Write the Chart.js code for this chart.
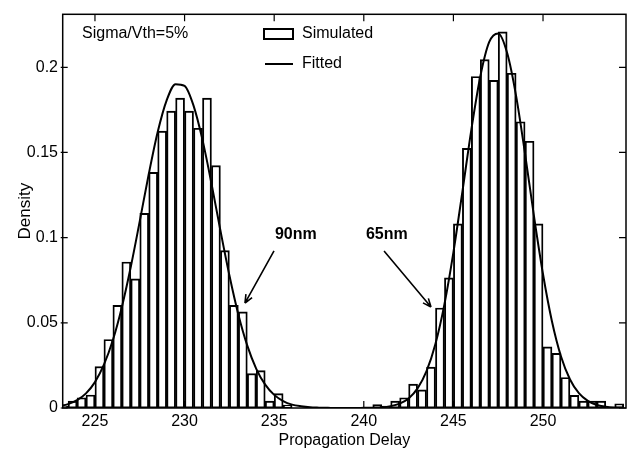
<!DOCTYPE html>
<html>
<head>
<meta charset="utf-8">
<script src="https://cdn.jsdelivr.net/npm/chart.js@4.4.1/dist/chart.umd.min.js"></script>
<style>
  html, body { margin: 0; padding: 0; background: #fff; }
  #wrap { width: 627px; height: 457px; }
</style>
</head>
<body>
<div id="wrap"><canvas id="c" width="627" height="457"></canvas></div>
<script>
// ---- Data ----
// Histogram bin centres (bin width 0.5) and simulated densities
const binCenters = [
  223.25, 223.75, 224.25, 224.75, 225.25, 225.75, 226.25, 226.75, 227.25, 227.75,
  228.25, 228.75, 229.25, 229.75, 230.25, 230.75, 231.25, 231.75, 232.25, 232.75,
  233.25, 233.75, 234.25, 234.75, 235.25, 235.75,
  240.75, 241.25, 241.75, 242.25, 242.75, 243.25, 243.75, 244.25, 244.75, 245.25,
  245.75, 246.25, 246.75, 247.25, 247.75, 248.25, 248.75, 249.25, 249.75, 250.25,
  250.75, 251.25, 251.75, 252.25, 252.75, 253.25, 254.25
];
const simulated = [
  0.0010, 0.0040, 0.0060, 0.0076, 0.0243, 0.0402, 0.0602, 0.0857, 0.0758, 0.1142,
  0.1383, 0.1625, 0.1743, 0.1819, 0.1743, 0.1642, 0.1819, 0.1423, 0.0924, 0.0602,
  0.0564, 0.0202, 0.0219, 0.0040, 0.0084, 0.0017,
  0.0020, 0.0012, 0.0040, 0.0060, 0.0140, 0.0106, 0.0240, 0.0587, 0.0764, 0.1081,
  0.1524, 0.1946, 0.2045, 0.1923, 0.2208, 0.1965, 0.1680, 0.1566, 0.1081, 0.0359,
  0.0321, 0.0179, 0.0074, 0.0040, 0.0040, 0.0040, 0.0025
];
// Fitted curve
const fitX = [
  223.0, 223.5, 224.0, 224.5, 225.0, 225.5, 226.0, 226.5, 227.0, 227.5,
  228.0, 228.5, 229.0, 229.5, 230.0, 230.5, 231.0, 231.5, 232.0, 232.5,
  233.0, 233.5, 234.0, 234.5, 235.0, 235.5, 236.0, 236.5, 237.0, 237.5,
  238.0, 238.5, 239.0, 239.5, 240.0, 240.5, 241.0, 241.5, 242.0, 242.5,
  243.0, 243.5, 244.0, 244.5, 245.0, 245.5, 246.0, 246.5, 247.0, 247.5,
  248.0, 248.5, 249.0, 249.5, 250.0, 250.5, 251.0, 251.5, 252.0, 252.5,
  253.0, 253.5, 254.0, 254.5
];
const fitted = [
  0.0011, 0.0023, 0.0046, 0.0086, 0.0152, 0.0254, 0.0399, 0.0592, 0.0829, 0.1097,
  0.1372, 0.1620, 0.1806, 0.1901, 0.1891, 0.1775, 0.1574, 0.1318, 0.1042, 0.0779,
  0.0549, 0.0366, 0.0230, 0.0137, 0.0077, 0.0041, 0.0020, 0.0010, 0.0004, 0.0002,
  0.0001, 0.0000, 0.0000, 0.0000, 0.0001, 0.0002, 0.0004, 0.0011, 0.0026, 0.0056,
  0.0115, 0.0216, 0.0377, 0.0610, 0.0914, 0.1269, 0.1633, 0.1946, 0.2149, 0.2199,
  0.2084, 0.1831, 0.1490, 0.1123, 0.0785, 0.0508, 0.0304, 0.0169, 0.0087, 0.0042,
  0.0018, 0.0008, 0.0003, 0.0001
];
const seriesNames = ['Simulated', 'Fitted'];
const xTickValues = [225, 230, 235, 240, 245, 250];
const yTickValues = [0, 0.05, 0.1, 0.15, 0.2];
const yTickLabels = ['0', '0.05', '0.1', '0.15', '0.2'];
const noteText = 'Sigma/Vth=5%';
const labels90 = '90nm';
const labels65 = '65nm';
const xTitle = 'Propagation Delay';
const yTitle = 'Density';

// ---- Chart ----
const FONT = "'Liberation Sans', Arial, Helvetica, sans-serif";
Chart.defaults.font.family = FONT;
Chart.defaults.font.size = 16;
Chart.defaults.color = '#000';

const barData = binCenters.map((x, i) => ({ x: x, y: simulated[i] }));
const lineData = fitX.map((x, i) => ({ x: x, y: fitted[i] }));

// annotation anchors in data units
const notes = [
  { text: labels90, tx: 235.04, ty: 0.1015, ax0: 234.99, ay0: 0.0922, ax1: 233.37, ay1: 0.0616 },
  { text: labels65, tx: 240.12, ty: 0.1015, ax0: 241.13, ay0: 0.0922, ax1: 243.75, ay1: 0.0593 }
];

const framePlugin = {
  id: 'frame',
  afterDatasetsDraw(chart) {
    const { ctx, chartArea: { left, right, top, bottom }, scales: { x, y } } = chart;
    ctx.save();
    ctx.strokeStyle = '#000';
    ctx.lineWidth = 1.5;
    ctx.strokeRect(left, top, right - left, bottom - top);
    ctx.beginPath();
    xTickValues.forEach(v => {
      const px = x.getPixelForValue(v);
      ctx.moveTo(px, bottom); ctx.lineTo(px, bottom - 7);
      ctx.moveTo(px, top); ctx.lineTo(px, top + 7);
    });
    yTickValues.forEach(v => {
      const py = y.getPixelForValue(v);
      ctx.moveTo(left - 2, py); ctx.lineTo(left + 5, py);
      ctx.moveTo(right, py); ctx.lineTo(right - 7, py);
    });
    ctx.lineWidth = 1.2;
    ctx.stroke();

    // text note
    ctx.fillStyle = '#000';
    ctx.font = '16px ' + FONT;
    ctx.textBaseline = 'middle';
    ctx.textAlign = 'left';
    ctx.fillText(noteText, 82, 34);

    // legend
    ctx.lineWidth = 2;
    ctx.fillStyle = '#fff';
    ctx.fillRect(264, 29, 29, 10);
    ctx.strokeRect(264, 29, 29, 10);
    ctx.beginPath();
    ctx.moveTo(265, 64); ctx.lineTo(293, 64);
    ctx.stroke();
    ctx.fillStyle = '#000';
    ctx.fillText(chart.data.datasets[0].label, 302, 34);
    ctx.fillText(chart.data.datasets[1].label, 302, 64);

    // annotations
    ctx.font = 'bold 16px ' + FONT;
    notes.forEach(n => {
      ctx.fillText(n.text, x.getPixelForValue(n.tx), y.getPixelForValue(n.ty));
      const x0 = x.getPixelForValue(n.ax0), y0 = y.getPixelForValue(n.ay0);
      const x1 = x.getPixelForValue(n.ax1), y1 = y.getPixelForValue(n.ay1);
      const ang = Math.atan2(y1 - y0, x1 - x0);
      ctx.lineWidth = 1.6;
      ctx.beginPath();
      ctx.moveTo(x0, y0); ctx.lineTo(x1, y1);
      ctx.moveTo(x1, y1);
      ctx.lineTo(x1 - 9 * Math.cos(ang - 0.4), y1 - 9 * Math.sin(ang - 0.4));
      ctx.moveTo(x1, y1);
      ctx.lineTo(x1 - 9 * Math.cos(ang + 0.4), y1 - 9 * Math.sin(ang + 0.4));
      ctx.stroke();
    });
    ctx.restore();
  }
};

new Chart(document.getElementById('c'), {
  data: {
    datasets: [
      {
        type: 'bar',
        label: seriesNames[0],
        data: barData,
        backgroundColor: '#fff',
        borderColor: '#000',
        borderWidth: 1.9,
        borderSkipped: false,
        barPercentage: 1.0,
        categoryPercentage: 1.0,
        order: 2
      },
      {
        type: 'line',
        label: seriesNames[1],
        data: lineData,
        borderColor: '#000',
        borderWidth: 2,
        pointRadius: 0,
        fill: false,
        cubicInterpolationMode: 'monotone',
        order: 1
      }
    ]
  },
  options: {
    responsive: false,
    animation: false,
    devicePixelRatio: 1,
    layout: { padding: { left: 0, right: 1, top: 2.7, bottom: 0 } },
    plugins: { legend: { display: false }, tooltip: { enabled: false } },
    scales: {
      x: {
        type: 'linear',
        offset: false,
        min: 223.2,
        max: 254.63,
        afterFit: s => { s.height = 49; },
        afterBuildTicks: s => { s.ticks = xTickValues.map(v => ({ value: v })); },
        grid: { display: false, drawTicks: false, offset: false },
        border: { display: false },
        ticks: { padding: 4.4, font: { size: 16 }, color: '#000', callback: v => String(v) },
        title: { display: true, text: xTitle, font: { size: 16 }, color: '#000', padding: { top: 0, bottom: 6.5 } }
      },
      y: {
        type: 'linear',
        min: 0,
        max: 0.2311,
        afterFit: s => { s.width = 62.7; },
        afterBuildTicks: s => { s.ticks = yTickValues.map(v => ({ value: v })); },
        grid: { display: false, drawTicks: false },
        border: { display: false },
        ticks: { padding: 4.7, font: { size: 16 }, color: '#000',
                 callback: (v, i) => yTickLabels[yTickValues.indexOf(v)] },
        title: { display: true, text: yTitle, font: { size: 17 }, color: '#000', padding: { top: 15, bottom: 0 } }
      }
    }
  },
  plugins: [framePlugin]
});
</script>
</body>
</html>
